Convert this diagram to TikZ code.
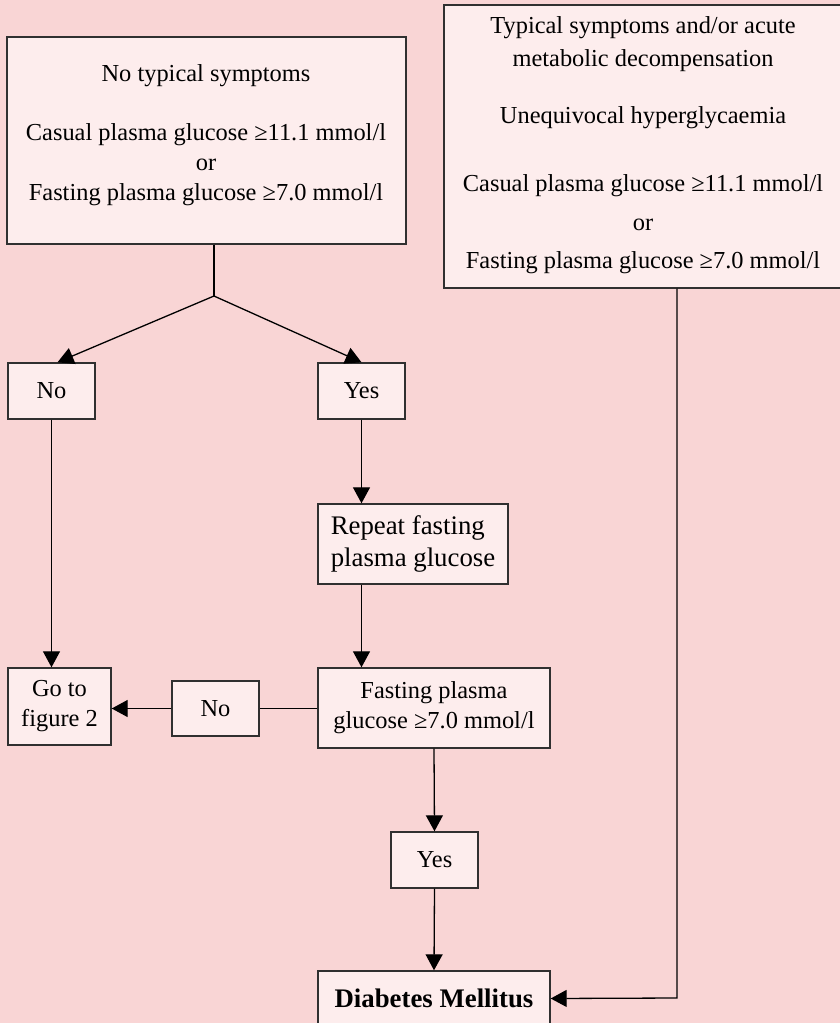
\documentclass[tikz,border=0pt]{standalone}
\usepackage{fontspec}
\setmainfont{Liberation Serif}
\usetikzlibrary{arrows.meta}
\definecolor{bg}{HTML}{F9D5D5}
\definecolor{boxfill}{HTML}{FDEDED}
\definecolor{boxline}{HTML}{303030}
\begin{document}
\begin{tikzpicture}[x=1pt,y=1pt,
  box/.style={draw=boxline, fill=boxfill, line width=1.4pt, inner sep=0pt, align=center, font=\fontsize{24.4}{30}\selectfont},
  bigfont/.style={font=\fontsize{26.8}{32}\selectfont},
  txt/.style={align=center, inner sep=0pt, font=\fontsize{24.4}{30}\selectfont},
  conn/.style={line width=1.3pt, draw=black},
  arr/.style={conn, -{Triangle[width=17pt,length=16pt]}}]
\useasboundingbox (0,0) rectangle (840,-1023);
\fill[bg] (0,0) rectangle (840,-1023);
\clip (0,0) rectangle (840,-1023);

% top boxes
\node[box, minimum width=399pt, minimum height=207pt] (A) at (206.5,-140.5) {};
\node[txt] (At) at (206,-135.5) {No typical symptoms\\[29pt]Casual plasma glucose ≥11.1 mmol/l\\or\\Fasting plasma glucose ≥7.0 mmol/l};

\node[box, minimum width=398pt, minimum height=283pt] (B) at (643,-146.5) {};
\node[txt] (Bt) at (643,-145.5) {Typical symptoms and/or acute\\[3pt]metabolic decompensation\\[27pt]Unequivocal hyperglycaemia\\[38pt]Casual plasma glucose ≥11.1 mmol/l\\[9pt]or\\[8pt]Fasting plasma glucose ≥7.0 mmol/l};

% decision boxes
\node[box, minimum width=87pt, minimum height=56pt] (N1) at (51.5,-391) {No};
\node[box, minimum width=87pt, minimum height=56pt] (Y1) at (361.5,-391) {Yes};
\node[box, bigfont, align=left, minimum width=190pt, minimum height=80pt] (R) at (413,-544) {Repeat fasting\\plasma glucose};
\node[box, minimum width=232pt, minimum height=80pt] (F) at (434,-708) {Fasting plasma\\glucose ≥7.0 mmol/l};
\node[box, minimum width=103pt, minimum height=77pt] (G) at (59.5,-706.5) {Go to\\figure 2};
\node[box, minimum width=87pt, minimum height=55pt] (N2) at (215.5,-708.5) {No};
\node[box, minimum width=87pt, minimum height=56pt] (Y2) at (434.5,-860) {Yes};
\node[box, bigfont, minimum width=232pt, minimum height=55pt] (D) at (434,-998.5) {\textbf{Diabetes Mellitus}};

% connectors
\coordinate (S) at (214,-296);
\coordinate (K) at (677,-998);
\draw[conn] (A.south -| S) -- (S);
\draw[arr] (S) -- ([xshift=6pt]N1.north);
\draw[arr] (S) -- (Y1.north);
\draw[arr] (N1.south) -- (N1.south |- G.north);
\draw[arr] (Y1.south) -- (Y1.south |- R.north);
\draw[arr] (R.south -| Y1.south) -- (F.north -| Y1.south);
\draw[conn] (N2.east -| F.west) -- (N2.east);
\draw[arr] (N2.west) -- (N2.west -| G.east);
\draw[arr] (F.south) -- (Y2.north);
\draw[arr] (Y2.south) -- (D.north);
\draw[arr] (B.south -| K) -- (K) -- (D.east);
\end{tikzpicture}
\end{document}
